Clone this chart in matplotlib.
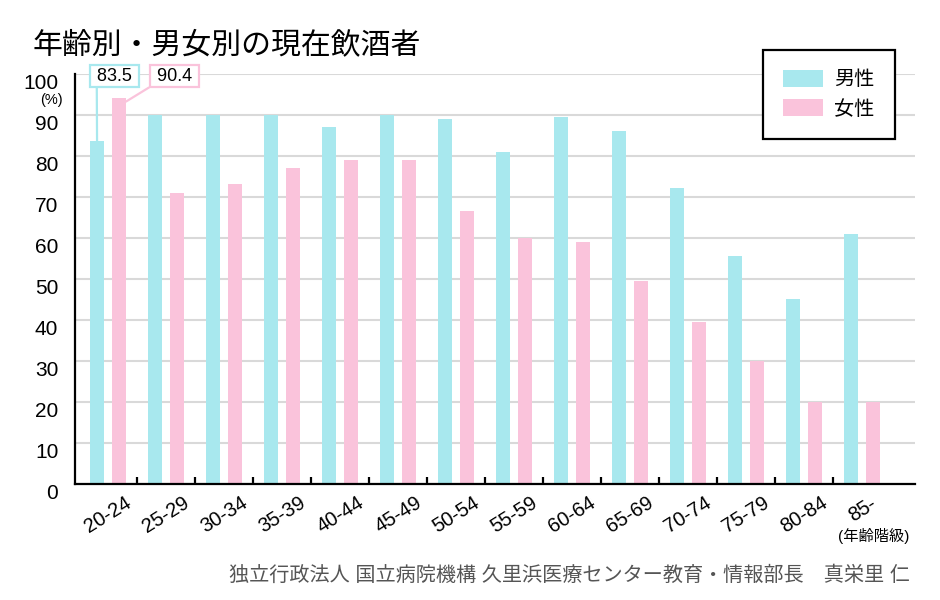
import matplotlib
matplotlib.use('Agg')
import matplotlib.pyplot as plt
import numpy as np

plt.rcParams['font.family'] = ['Liberation Sans', 'Noto Sans CJK JP']

age_groups = ['20-24', '25-29', '30-34', '35-39', '40-44', '45-49', '50-54',
              '55-59', '60-64', '65-69', '70-74', '75-79', '80-84', '85-']
male = [83.5, 90, 90, 90, 87, 90, 89, 81, 89.5, 86, 72, 55.5, 45, 61]
female = [94, 71, 73, 77, 79, 79, 66.5, 60, 59, 49.4, 39.4, 30, 20, 20]
callouts = ['83.5', '90.4']
series_names = ['男性', '女性']

c_male = '#a8e8ee'
c_female = '#fac3db'

fig = plt.figure(figsize=(9.4, 6), dpi=100)
ax = fig.add_axes([0.0798, 0.1938, 0.8936, 0.6834])

x = np.arange(len(age_groups))
w = 0.24
off = 0.19
ax.bar(x - off, male, w, color=c_male, label=series_names[0], zorder=2)
ax.bar(x + off, female, w, color=c_female, label=series_names[1], zorder=2)

ax.set_xlim(-0.57, 13.91)
ax.set_ylim(0, 100)
ax.set_yticks(range(0, 101, 10))
ax.yaxis.grid(True, color='#d9d9d9', lw=1.5)
ax.set_axisbelow(True)
for s in ['top', 'right']:
    ax.spines[s].set_visible(False)
for s in ['left', 'bottom']:
    ax.spines[s].set_linewidth(1.6)
ax.tick_params(axis='y', length=0, pad=12, labelsize=15)
plt.setp(ax.get_yticklabels(), va='top')

# tick marks between groups, labels at group centres
ax.set_xticks(x[:-1] + 0.5)
ax.set_xticks(x, age_groups, minor=True)
ax.tick_params(axis='x', which='major', direction='in', length=5, width=1.6, labelbottom=False)
ax.tick_params(axis='x', which='minor', length=0, pad=7, labelsize=14.5)
plt.setp(ax.get_xticklabels(minor=True), rotation=32, ha='center')

leg = ax.legend(loc='upper right', bbox_to_anchor=(0.976, 1.058), fancybox=False,
                edgecolor='black', framealpha=1, borderaxespad=0, fontsize=14.5,
                handlelength=2.0, handleheight=0.9, labelspacing=0.5,
                borderpad=1.0, handletextpad=0.55)
leg.get_frame().set_linewidth(1.6)

# callout boxes for the first age group
ax.annotate(' ' + callouts[0] + ' ', xy=(x[0] - off, male[0]), xytext=(x[0] - off - w / 2 + 0.03, 99.4),
            ha='left', va='center', fontsize=13, annotation_clip=False,
            bbox=dict(boxstyle='square,pad=0.12', fc='white', ec=c_male, lw=1.6),
            arrowprops=dict(arrowstyle='-', color=c_male, lw=1.6, shrinkA=0, shrinkB=0, relpos=(0.11, 0)))
ax.annotate(' ' + callouts[1] + ' ', xy=(x[0] + off + w / 2, female[0] - 0.8), xytext=(0.754, 99.4),
            ha='left', va='center', fontsize=13, annotation_clip=False,
            bbox=dict(boxstyle='square,pad=0.12', fc='white', ec=c_female, lw=1.6),
            arrowprops=dict(arrowstyle='-', color=c_female, lw=1.6, shrinkA=0, shrinkB=0, relpos=(0.04, 0)))

fig.text(0.035, 1 - 45 / 600, '年齢別・男女別の現在飲酒者', ha='left', va='center', fontsize=21.5)
fig.text(63 / 940, 1 - 100 / 600, '(%)', ha='right', va='center', fontsize=10.5)
fig.text(874 / 940, 1 - 536 / 600, '(年齢階級)', ha='center', va='center', fontsize=11)
fig.text(910 / 940, 1 - 575 / 600, '独立行政法人 国立病院機構 久里浜医療センター教育・情報部長　真栄里 仁',
         ha='right', va='center', fontsize=14.5, color='#555555')

fig.savefig('out.png', dpi=100)
